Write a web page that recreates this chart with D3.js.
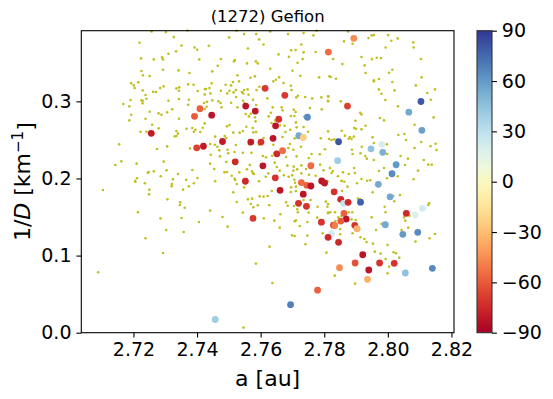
<!DOCTYPE html>
<html lang="en">
<head>
<meta charset="utf-8">
<title>(1272) Gefion</title>
<script src="https://d3js.org/d3.v7.min.js"></script>
<style>
  body { margin: 0; background: #fff; }
  svg { display: block; font-family: 'DejaVu Sans', sans-serif; }
</style>
</head>
<body>
<div id="chart"></div>
<script>
// tick values
var xTicks = [2.72, 2.74, 2.76, 2.78, 2.80, 2.82];
var yTicks = [0.0, 0.1, 0.2, 0.3];
var cbarTicks = [-90, -60, -30, 0, 30, 60, 90];

// background asteroids: [a (au), 1/D (1/km)]
var background = [
  [2.7257,0.3907],[2.7302,0.3898],[2.7370,0.3918],[2.7327,0.3833],[2.7219,0.3760],[2.7351,0.3725],[2.7392,0.3699],[2.7400,0.3669],
  [2.7334,0.3648],[2.7310,0.3617],[2.7224,0.3557],[2.7264,0.3544],[2.7290,0.3570],[2.7293,0.3544],[2.7407,0.3544],[2.7225,0.3393],
  [2.7293,0.3410],[2.7342,0.3401],[2.7376,0.3367],[2.7230,0.3337],[2.7251,0.3328],[2.7193,0.3233],[2.7215,0.3246],[2.7201,0.3207],
  [2.7204,0.3172],[2.7372,0.3220],[2.7389,0.3216],[2.7335,0.3168],[2.7344,0.3181],[2.7343,0.3138],[2.7229,0.3142],[2.7284,0.3172],
  [2.7295,0.3194],[2.7262,0.3125],[2.7271,0.3121],[2.7402,0.3134],[2.7425,0.3159],[2.7238,0.3082],[2.7424,0.3090],[2.7191,0.3017],
  [2.7225,0.3013],[2.7229,0.3008],[2.7241,0.3034],[2.7310,0.3008],[2.7343,0.3030],[2.7374,0.3021],[2.7168,0.2965],[2.7229,0.2974],
  [2.7187,0.2935],[2.7372,0.2956],[2.7322,0.2896],[2.7306,0.2857],[2.7251,0.2866],[2.7279,0.2844],[2.7288,0.2827],[2.7193,0.2827],
  [2.7238,0.2775],[2.7343,0.2775],[2.7187,0.2753],[2.7259,0.2697],[2.7279,0.2650],[2.7222,0.2606],[2.7241,0.2606],[2.7367,0.2645],
  [2.7385,0.2654],[2.7395,0.2632],[2.7390,0.2606],[2.7410,0.2602],[2.7335,0.2615],[2.7340,0.2581],[2.7330,0.2546],[2.7335,0.2550],
  [2.7418,0.2658],[2.7424,0.2714],[2.7155,0.2442],[2.7306,0.2416],[2.7274,0.2382],[2.7378,0.2390],[2.7162,0.2222],[2.7143,0.2174],
  [2.7210,0.2192],[2.7295,0.2218],[2.7304,0.2105],[2.7385,0.2110],[2.7401,0.2006],[2.7248,0.2084],[2.7264,0.2092],[2.7245,0.2075],
  [2.7324,0.1989],[2.7340,0.2058],[2.7211,0.2002],[2.7205,0.1967],[2.7366,0.1984],[2.7286,0.2028],
  [2.7206,0.1958],[2.7236,0.1937],[2.7104,0.1850],[2.7250,0.1855],[2.7249,0.1794],[2.7321,0.1928],[2.7320,0.1898],[2.7390,0.1937],
  [2.7374,0.1898],[2.7356,0.1855],[2.7307,0.1729],[2.7347,0.1691],[2.7346,0.1656],[2.7361,0.1621],[2.7214,0.1561],[2.7285,0.1483],
  [2.7351,0.1487],[2.7406,0.1436],[2.7303,0.1332],[2.7358,0.1306],[2.7238,0.1224],[2.7293,0.1034],[2.7089,0.0783],
  [2.7524,0.3915],[2.7548,0.3872],[2.7586,0.3872],[2.7630,0.3907],[2.7686,0.3872],[2.7735,0.3885],[2.7766,0.3855],[2.7776,0.3915],
  [2.7501,0.3829],[2.7595,0.3803],[2.7609,0.3738],[2.7560,0.3686],[2.7437,0.3721],[2.7728,0.3738],[2.7710,0.3665],[2.7696,0.3661],
  [2.7656,0.3609],[2.7689,0.3578],[2.7735,0.3635],[2.7773,0.3639],[2.7475,0.3548],[2.7519,0.3535],[2.7516,0.3518],[2.7557,0.3492],
  [2.7585,0.3518],[2.7591,0.3492],[2.7716,0.3501],[2.7732,0.3548],[2.7465,0.3462],[2.7630,0.3423],[2.7700,0.3397],[2.7448,0.3388],
  [2.7527,0.3337],[2.7568,0.3306],[2.7582,0.3324],[2.7658,0.3311],[2.7648,0.3280],[2.7640,0.3259],[2.7725,0.3332],[2.7784,0.3311],
  [2.7816,0.3324],[2.7446,0.3233],[2.7490,0.3216],[2.7513,0.3250],[2.7532,0.3259],[2.7507,0.3207],[2.7548,0.3146],[2.7428,0.3159],
  [2.7439,0.3172],[2.7475,0.3138],[2.7502,0.3138],[2.7522,0.3146],[2.7541,0.3121],[2.7559,0.3155],[2.7587,0.3146],[2.7596,0.3190],
  [2.7621,0.3038],[2.7695,0.3203],[2.7697,0.3146],[2.7717,0.3073],[2.7712,0.3051],[2.7672,0.3237],[2.7740,0.3056],[2.7762,0.3038],
  [2.7791,0.3051],[2.7813,0.3064],[2.7812,0.3008],[2.7442,0.3103],[2.7495,0.3103],[2.7515,0.3116],[2.7523,0.3056],[2.7545,0.3103],
  [2.7562,0.3086],[2.7576,0.3021],[2.7422,0.2978],[2.7431,0.2995],[2.7448,0.3013],[2.7467,0.3000],[2.7474,0.2978],[2.7477,0.2922],
  [2.7507,0.2982],[2.7545,0.3008],[2.7549,0.2974],[2.7527,0.2922],[2.7586,0.2952],[2.7638,0.2922],[2.7666,0.2922],[2.7669,0.2883],
  [2.7632,0.2853],[2.7625,0.2805],[2.7704,0.2892],[2.7710,0.2861],[2.7695,0.2810],[2.7706,0.2810],[2.7792,0.2896],[2.7755,0.2913],
  [2.7737,0.2801],[2.7430,0.2930],[2.7424,0.2900],[2.7555,0.2671],[2.7502,0.2693],[2.7494,0.2676],[2.7553,0.2835],[2.7563,0.2805],
  [2.7569,0.2840],[2.7582,0.2792],[2.7584,0.2740],[2.7586,0.2602],[2.7575,0.2654],[2.7577,0.2598],[2.7634,0.2719],[2.7646,0.2753],
  [2.7661,0.2689],[2.7675,0.2684],[2.7711,0.2727],[2.7713,0.2663],[2.7735,0.2667],[2.7749,0.2606],[2.7789,0.2520],[2.7812,0.2611],
  [2.7457,0.2542],[2.7487,0.2550],[2.7492,0.2524],[2.7514,0.2594],[2.7534,0.2594],[2.7544,0.2615],[2.7609,0.2524],[2.7633,0.2524],
  [2.7678,0.2602],[2.7693,0.2632],[2.7707,0.2520],[2.7669,0.2537],[2.7692,0.2447],[2.7441,0.2447],[2.7456,0.2438],[2.7464,0.2412],
  [2.7470,0.2365],[2.7496,0.2373],[2.7522,0.2434],[2.7564,0.2442],[2.7595,0.2438],[2.7640,0.2438],[2.7687,0.2395],[2.7643,0.2330],
  [2.7651,0.2343],[2.7443,0.2308],[2.7472,0.2287],[2.7498,0.2326],[2.7518,0.2343],[2.7544,0.2334],[2.7571,0.2334],[2.7607,0.2291],
  [2.7636,0.2295],[2.7680,0.2278],[2.7703,0.2373],[2.7727,0.2412],[2.7760,0.2317],[2.7786,0.2313],[2.7802,0.2378],[2.7713,0.2287],
  [2.7751,0.2265],[2.7441,0.2192],[2.7492,0.2213],[2.7566,0.2174],[2.7617,0.2274],[2.7644,0.2205],[2.7651,0.2149],[2.7684,0.2166],
  [2.7704,0.2153],[2.7703,0.2101],[2.7715,0.2118],[2.7728,0.2170],[2.7743,0.2123],[2.7787,0.2179],[2.7454,0.2123],[2.7557,0.2118],
  [2.7486,0.2079],[2.7494,0.2084],[2.7533,0.2079],[2.7573,0.2092],[2.7624,0.2066],[2.7660,0.2101],[2.7576,0.2066],[2.7616,0.2023],
  [2.7673,0.2041],[2.7688,0.2023],[2.7699,0.2041],[2.7706,0.1984],[2.7728,0.2066],[2.7752,0.2049],[2.7773,0.2036],[2.7798,0.2105],
  [2.7810,0.1963],[2.7457,0.1963],[2.7509,0.2036],[2.7518,0.1997],[2.7579,0.2058],[2.7595,0.1963],
  [2.7875,0.3907],[2.7862,0.3777],[2.7889,0.3747],[2.7939,0.3820],[2.7949,0.3855],[2.7956,0.3859],[2.8001,0.3859],[2.8011,0.3786],
  [2.8031,0.3816],[2.8080,0.3764],[2.8081,0.3699],[2.7993,0.3699],[2.7828,0.3548],[2.7917,0.3574],[2.7950,0.3548],[2.7965,0.3566],
  [2.7978,0.3561],[2.8104,0.3548],[2.7857,0.3483],[2.7927,0.3466],[2.7930,0.3367],[2.8004,0.3371],[2.8014,0.3410],[2.7820,0.3315],
  [2.7837,0.3293],[2.7956,0.3272],[2.7956,0.3259],[2.7972,0.3289],[2.8014,0.3250],[2.8106,0.3311],[2.8088,0.3207],[2.7972,0.3155],
  [2.7980,0.3099],[2.8021,0.3142],[2.8124,0.3108],[2.8148,0.3155],[2.8135,0.3021],[2.7812,0.3064],[2.7812,0.3000],[2.7852,0.3000],
  [2.7992,0.3017],[2.8032,0.2935],[2.7913,0.2853],[2.7917,0.2831],[2.7975,0.2784],[2.7988,0.2753],[2.8144,0.2792],[2.7898,0.2749],
  [2.7894,0.2654],[2.7900,0.2645],[2.7917,0.2637],[2.7930,0.2684],[2.8084,0.2697],[2.7855,0.2619],[2.7865,0.2555],[2.7881,0.2537],
  [2.7893,0.2542],[2.7886,0.2511],[2.7877,0.2516],[2.7831,0.2507],[2.7823,0.2498],[2.7815,0.2511],[2.7952,0.2533],[2.7956,0.2460],
  [2.8033,0.2563],[2.8052,0.2576],[2.8057,0.2498],[2.8105,0.2473],[2.8150,0.2451],[2.8134,0.2417],[2.8084,0.2395],[2.7918,0.2412],
  [2.7887,0.2373],[2.7889,0.2317],[2.7914,0.2326],[2.7929,0.2291],[2.7934,0.2257],[2.7956,0.2239],[2.7997,0.2442],[2.7998,0.2317],
  [2.8040,0.2291],[2.8063,0.2257],[2.8113,0.2239],[2.8127,0.2179],[2.8138,0.2179],[2.8153,0.2369],[2.7988,0.2136],[2.7972,0.2097],
  [2.8054,0.2174],[2.7894,0.2136],[2.7896,0.2071],[2.7859,0.2079],[2.7877,0.2058],[2.7823,0.2071],[2.7818,0.2136],[2.7827,0.2097],
  [2.7843,0.2028],[2.7855,0.1971],[2.7917,0.1993],[2.7945,0.1976],[2.7997,0.2002],[2.8031,0.2028],[2.8095,0.2101],[2.8081,0.1989],
  [2.7520,0.1980],[2.7525,0.1928],[2.7548,0.1885],[2.7514,0.1820],[2.7525,0.1695],[2.7441,0.1583],[2.7480,0.1500],[2.7496,0.1375],
  [2.7544,0.1557],[2.7560,0.1729],[2.7573,0.1738],[2.7597,0.1768],[2.7609,0.1764],[2.7622,0.1773],[2.7569,0.1669],[2.7577,0.1626],
  [2.7591,0.1652],[2.7627,0.1652],[2.7635,0.1837],[2.7610,0.1483],[2.7643,0.1453],[2.7662,0.1535],[2.7660,0.1362],[2.7680,0.1691],
  [2.7685,0.1647],[2.7708,0.1945],[2.7711,0.1894],[2.7696,0.1885],[2.7695,0.1824],[2.7711,0.1837],[2.7705,0.1643],[2.7715,0.1600],
  [2.7717,0.1561],[2.7735,0.1721],[2.7757,0.1721],[2.7751,0.1557],[2.7779,0.1634],[2.7805,0.1699],[2.7810,0.1634],[2.7812,0.1557],
  [2.7778,0.1492],[2.7707,0.1444],[2.7711,0.1457],[2.7723,0.1384],[2.7747,0.1436],[2.7795,0.1289],[2.7699,0.1263],[2.7707,0.1254],
  [2.7747,0.1259],[2.7741,0.1146],[2.7628,0.1116],[2.7807,0.1038],[2.7585,0.0896],[2.7637,0.0645],[2.7546,0.0066],
  [2.7854,0.1967],[2.7863,0.1958],[2.7903,0.1937],[2.7935,0.1971],[2.7873,0.1894],[2.7856,0.1837],[2.7952,0.1820],[2.7906,0.1738],
  [2.7912,0.1729],[2.7844,0.1721],[2.7812,0.1669],[2.7834,0.1561],[2.7854,0.1513],[2.7863,0.1570],[2.7877,0.1561],[2.7888,0.1561],
  [2.7844,0.1496],[2.7886,0.1470],[2.7899,0.1462],[2.7949,0.1496],[2.7990,0.1634],[2.7993,0.1561],[2.8017,0.1773],[2.8020,0.1704],
  [2.8038,0.1786],[2.8068,0.1518],[2.8127,0.1656],[2.8130,0.1678],[2.8051,0.1496],[2.8055,0.1453],[2.8064,0.1362],[2.8043,0.1332],
  [2.7963,0.1332],[2.7980,0.1410],[2.7985,0.1418],[2.8148,0.1280],[2.8131,0.1224],[2.8087,0.1181],[2.7850,0.1276],[2.7889,0.1289],
  [2.7914,0.1237],[2.7926,0.1215],[2.7933,0.1176],[2.7953,0.1155],[2.7999,0.1138],[2.7959,0.1051],[2.8018,0.1043],[2.8026,0.1030],
  [2.8036,0.0973],[2.7993,0.0956],[2.7977,0.1025],[2.8004,0.0857],[2.7999,0.0770],[2.7833,0.0740],[2.7897,0.0636],[2.7819,0.1561],
  [2.7812,0.1548],[2.7835,0.1449],[2.7850,0.1345]
];

// family members: [a (au), 1/D (1/km), colour value]
var family = [
  [2.7614,0.3169,-70],[2.7813,0.3639,-55],[2.7893,0.3817,-45],[2.7676,0.3078,-70],[2.7873,0.2939,-68],
  [2.7409,0.2904,-58],[2.7392,0.2806,-60],[2.7446,0.2820,-82],[2.7553,0.2939,-82],[2.7583,0.2874,-82],
  [2.7747,0.2794,65],[2.7657,0.2768,-72],[2.7647,0.2682,-82],[2.7256,0.2585,-80],[2.7480,0.2479,-80],
  [2.7569,0.2472,-80],[2.7601,0.2472,-72],[2.7639,0.2520,-82],[2.7720,0.2554,55],[2.7734,0.2531,-25],
  [2.7845,0.2476,80],[2.7399,0.2397,-68],[2.7420,0.2418,-80],[2.7651,0.2319,-75],[2.7669,0.2360,-55],
  [2.7520,0.2216,-75],[2.7607,0.2164,-82],[2.7758,0.2165,-55],[2.7842,0.2230,40],[2.7552,0.1964,-75],
  [2.7646,0.2008,-72],[2.7728,0.1947,-55],[2.7745,0.1911,-58],[2.7758,0.1902,-82],[2.7792,0.1967,-82],
  [2.7801,0.1941,-80],[2.7661,0.1846,-82],[2.7734,0.1796,-82],[2.7719,0.1678,-72],[2.7744,0.1639,-72],
  [2.7576,0.1483,-70],[2.7791,0.1433,-72],[2.7831,0.1827,-72],[2.7852,0.1730,-75],[2.7861,0.1678,28],
  [2.7875,0.1691,-75],[2.7914,0.1692,78],[2.7970,0.1924,55],[2.8007,0.1762,55],[2.7862,0.1548,-58],
  [2.7869,0.1474,-82],[2.7852,0.1448,-60],[2.7829,0.1394,-70],[2.7833,0.1390,-50],[2.7896,0.1392,-72],
  [2.7903,0.1348,-35],[2.7823,0.1284,22],[2.7812,0.1237,-75],[2.7845,0.1172,-75],[2.7992,0.1400,55],
  [2.8058,0.1548,-75],[2.8086,0.1526,18],[2.8109,0.1613,22],[2.8047,0.1276,60],[2.8094,0.1302,65],
  [2.7921,0.1011,-82],[2.7897,0.0904,-62],[2.7848,0.0843,-45],[2.7940,0.0813,-82],[2.7974,0.0904,-72],
  [2.8020,0.0900,-72],[2.7936,0.0692,-35],[2.8055,0.0774,45],[2.8140,0.0835,65],[2.7779,0.0551,-58],
  [2.7694,0.0363,68],[2.7457,0.0171,40],[2.8104,0.2998,80],[2.8066,0.2859,55],[2.8107,0.2624,58],
  [2.7981,0.2443,20],[2.7947,0.2384,45],[2.7984,0.2339,52],[2.8026,0.2178,60],[2.8013,0.2061,65]
];

var W = 553, H = 399;
var plot = {left: 81.3, right: 454, top: 30.7, bottom: 332.7};
var cbar = {left: 477, right: 492};
var tickLen = 4.9, tickPad = 4.9;

var svg = d3.select("#chart").append("svg")
    .attr("width", W)
    .attr("height", H);

var x = d3.scaleLinear().domain([2.7036, 2.8208]).range([plot.left, plot.right]);
var y = d3.scaleLinear().domain([0, 0.3916]).range([plot.bottom, plot.top]);
var colorOf = function(v) { return d3.interpolateRdYlBu((v + 90) / 180); };

// background dots
svg.append("g")
  .selectAll("circle")
  .data(background)
  .enter().append("circle")
    .attr("cx", function(d) { return x(d[0]); })
    .attr("cy", function(d) { return y(d[1]); })
    .attr("r", 1.3)
    .attr("fill", "#bfbf1f");

// family members
svg.append("g")
  .selectAll("circle")
  .data(family)
  .enter().append("circle")
    .attr("cx", function(d) { return x(d[0]); })
    .attr("cy", function(d) { return y(d[1]); })
    .attr("r", 3.4)
    .attr("fill", function(d) { return colorOf(d[2]); });

// axes
var xAxis = svg.append("g")
    .attr("transform", "translate(0," + plot.bottom + ")")
    .call(d3.axisBottom(x).tickValues(xTicks).tickSize(tickLen).tickPadding(tickPad).tickFormat(d3.format(".2f")));
var yAxis = svg.append("g")
    .attr("transform", "translate(" + plot.left + ",0)")
    .call(d3.axisLeft(y).tickValues(yTicks).tickSize(tickLen).tickPadding(tickPad).tickFormat(d3.format(".1f")));

[xAxis, yAxis].forEach(function(g) {
  g.select(".domain").remove();
  g.selectAll("line").attr("stroke", "#000").attr("stroke-width", 1.1);
  g.selectAll("text").attr("fill", "#000").style("font-size", "19px").style("font-family", "DejaVu Sans");
});

// frame
svg.append("rect")
    .attr("x", plot.left).attr("y", plot.top)
    .attr("width", plot.right - plot.left).attr("height", plot.bottom - plot.top)
    .attr("fill", "none").attr("stroke", "#000").attr("stroke-width", 1.1);

// title
svg.append("text")
    .attr("x", (plot.left + plot.right) / 2).attr("y", 22)
    .attr("text-anchor", "middle")
    .style("font-size", "16.5px")
    .text("(1272) Gefion");

// x label
svg.append("text")
    .attr("x", (plot.left + plot.right) / 2).attr("y", 386)
    .attr("text-anchor", "middle")
    .style("font-size", "22px")
    .text("a [au]");

// y label
var yl = svg.append("text")
    .attr("transform", "translate(30," + ((plot.top + plot.bottom) / 2) + ") rotate(-90)")
    .attr("text-anchor", "middle")
    .style("font-size", "22px");
yl.append("tspan").text("1/");
yl.append("tspan").style("font-style", "italic").text("D");
yl.append("tspan").text(" [km");
yl.append("tspan").attr("dy", "-0.45em").style("font-size", "15px").text("\u22121");
yl.append("tspan").attr("dy", "0.45em").text("]");

// colorbar
var cy = d3.scaleLinear().domain([-90, 90]).range([plot.bottom, plot.top]);
var grad = svg.append("defs").append("linearGradient")
    .attr("id", "cgrad").attr("x1", 0).attr("y1", 1).attr("x2", 0).attr("y2", 0);
d3.range(0, 1.0001, 0.05).forEach(function(t) {
  grad.append("stop").attr("offset", t).attr("stop-color", d3.interpolateRdYlBu(t));
});
svg.append("rect")
    .attr("x", cbar.left).attr("y", plot.top)
    .attr("width", cbar.right - cbar.left).attr("height", plot.bottom - plot.top)
    .attr("fill", "url(#cgrad)")
    .attr("stroke", "#333").attr("stroke-width", 1.1);

var cAxis = svg.append("g")
    .attr("transform", "translate(" + cbar.right + ",0)")
    .call(d3.axisRight(cy).tickValues(cbarTicks).tickSize(tickLen).tickPadding(tickPad)
      .tickFormat(function(d) { return d < 0 ? "\u2212" + Math.abs(d) : d; }));
cAxis.select(".domain").remove();
cAxis.selectAll("line").attr("stroke", "#000").attr("stroke-width", 1.1);
cAxis.selectAll("text").attr("fill", "#000").style("font-size", "19px").style("font-family", "DejaVu Sans");
</script>
</body>
</html>
